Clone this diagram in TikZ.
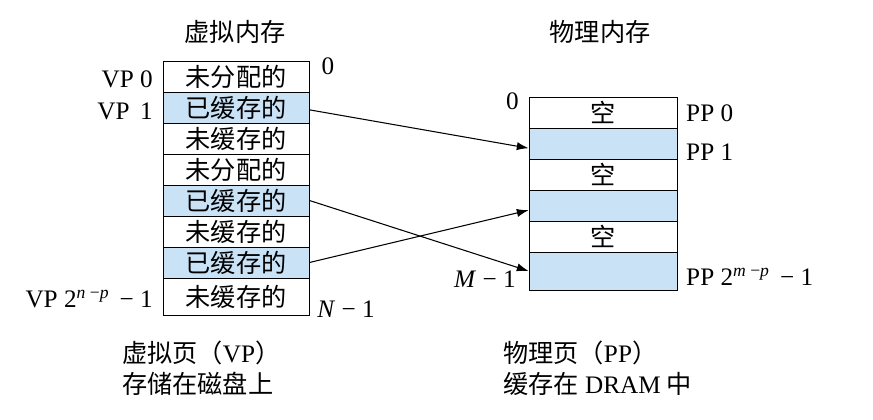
\documentclass[tikz,border=0pt]{standalone}
\usepackage{fontspec}
\setmainfont{Liberation Serif}
\newfontfamily\cjk{Noto Sans CJK SC}
\usetikzlibrary{arrows.meta}
\definecolor{cellblue}{RGB}{201,226,246}
\tikzset{
  cell/.style={draw, line width=0.8pt, inner sep=0pt, minimum width=4.38cm,
    minimum height=0.93cm, font=\cjk\fontsize{21.5}{22}\selectfont},
  lbl/.style={inner sep=0pt, font=\fontsize{21.5}{22}\selectfont},
  map/.style={line width=0.9pt, -{Latex[length=10pt,width=7pt]}}
}
\begin{document}
\begin{tikzpicture}[x=0.03cm, y=-0.03cm]
\useasboundingbox (0,0) rectangle (873,419);
% virtual memory pages
\foreach \t/\c [count=\i] in {未分配的/white,已缓存的/cellblue,未缓存的/white,
  未分配的/white,已缓存的/cellblue,未缓存的/white,已缓存的/cellblue}{
  \node[cell, fill=\c] (v\i) at (236,{45.5+31*\i}) {\t};
}
\node[cell, minimum height=1.11cm] (v8) at (236,296.5) {未缓存的};
% physical memory pages
\foreach \t/\c [count=\i] in {空/white,/cellblue,空/white,/cellblue,空/white}{
  \node[cell, fill=\c, minimum width=4.44cm] (p\i) at (603,{81.5+31*\i}) {\t};
}
\node[cell, fill=cellblue, minimum width=4.44cm, minimum height=1.14cm] (p6) at (603,271) {};
% titles
\node[lbl, font=\cjk\fontsize{21.5}{22}\selectfont] (vtitle) at (235,32) {虚拟内存};
\node[lbl, font=\cjk\fontsize{21.5}{22}\selectfont] (ptitle) at (600,32) {物理内存};
% page labels
\node[lbl, anchor=east] (vp0) at (153,79) {VP 0};
\node[lbl, anchor=east] (vp1) at (153,111) {VP\, 1};
\node[lbl, anchor=east] (vpn) at (153,299) {VP 2\textsuperscript{\textit{n} −\textit{p}} \,− 1};
\node[lbl] (vzero) at (328,66) {0};
\node[lbl] (vlast) at (346,309) {\textit{N} − 1};
\node[lbl, anchor=west] (pp0) at (686,113) {PP 0};
\node[lbl, anchor=west] (pp1) at (686,152) {PP 1};
\node[lbl, anchor=west] (ppm) at (686,277) {PP 2\textsuperscript{\textit{m} −\textit{p}} \,− 1};
\node[lbl, anchor=east] (pzero) at (519,101) {0};
\node[lbl, anchor=east] (plast) at (516,279) {\textit{M} − 1};
% captions
\node[lbl, anchor=west] (vcap1) at (122,353) {{\cjk 虚拟页（}VP{\cjk ）}};
\node[lbl, anchor=west] (vcap2) at (122,384) {\cjk 存储在磁盘上};
\node[lbl, anchor=west] (pcap1) at (503,353) {{\cjk 物理页（}PP{\cjk ）}};
\node[lbl, anchor=west] (pcap2) at (503,384) {{\cjk 缓存在} DRAM {\cjk 中}};
% mappings
\draw[map] ([yshift=-2pt]v2.east) -- ([yshift=-4pt]p2.west);
\draw[map] (v5.east) -- (p6.west);
\draw[map] (v7.east) -- ([yshift=-4pt]p4.west);
\end{tikzpicture}
\end{document}
